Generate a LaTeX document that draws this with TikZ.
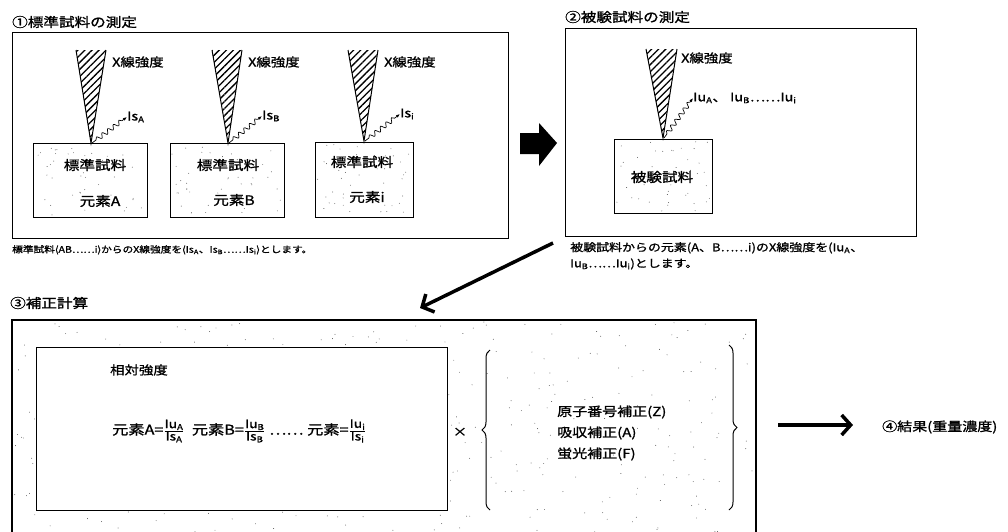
\documentclass[tikz,border=0pt]{standalone}
\usepackage{fontspec}
\newfontfamily\jp[FakeStretch=1.2,FakeBold=1.2]{Noto Sans CJK JP}
\usetikzlibrary{patterns.meta,decorations.pathmorphing,decorations.pathreplacing,arrows.meta}
\newcommand\fr[2]{\ensuremath{{\hbox{\jp\fontsize{11.5}{11.5}\selectfont #1}\above0.7pt\hbox{\jp\fontsize{11.5}{11.5}\selectfont #2}}}}
\begin{document}
\begin{tikzpicture}[x=1pt,y=-1pt,
  every node/.style={inner sep=0pt},
  ttl/.style={font=\jp\fontsize{13}{15}\selectfont, anchor=west},
  captxt/.style={font=\jp\fontsize{8.9}{16}\selectfont, anchor=north west, align=left},
  captwo/.style={font=\jp\fontsize{10.8}{16}\selectfont, anchor=north west, align=left},
  xl/.style={font=\jp\fontsize{12}{14}\selectfont, anchor=west},
  smp/.style={font=\jp\fontsize{13}{15}\selectfont},
  midtxt/.style={font=\jp\fontsize{12}{21}\selectfont},
  frm/.style={draw, line width=1.4pt},
  sample/.style={draw, line width=1pt, fill=white},
  cone/.style={pattern={Lines[angle=45,distance=5pt,line width=1.3pt]}},
  wave/.style={decorate, decoration={snake, amplitude=2.2pt, segment length=7pt, pre length=5pt, post length=4pt}, line width=0.7pt, -{Latex[length=4pt,width=3pt]}},
  bigarrow/.style={line width=3.5pt, -{Straight Barb[length=9pt,width=20pt]}},
  stip/.style={fill=black!70}
]
\useasboundingbox (0,0) rectangle (1008,531);
\pgfmathsetseed{7}

% ---------- section 1 ----------
\node[ttl] (t1) at (12,22) {①標準試料の測定};
\node[frm, anchor=north west, minimum width=496pt, minimum height=206pt] (n1) at (12,32) {};

% sample boxes
\node[sample, anchor=north west, minimum width=114pt, minimum height=74pt] (sA) at (33,143) {};
\node[sample, anchor=north west, minimum width=114pt, minimum height=74pt] (sB) at (170,143) {};
\node[sample, anchor=north west, minimum width=98pt, minimum height=75pt] (sI) at (315,142) {};
\foreach \i in {1,...,45} {
  \fill[stip] ({35+110*rnd},{145+70*rnd}) circle (0.45pt);
  \fill[stip] ({172+110*rnd},{145+70*rnd}) circle (0.45pt);
  \fill[stip] ({317+94*rnd},{144+71*rnd}) circle (0.45pt);
}
\node[smp] (sAt) at (95,165) {標準試料};
\node[smp] (sAe) at (100,201) {元素A};
\node[smp] (sBt) at (228,165) {標準試料};
\node[smp] (sBe) at (234,200) {元素B};
\node[smp] (sIt) at (362,162) {標準試料};
\node[smp] (sIe) at (367,197) {元素i};

% cones
\fill[cone] (76,50) -- (106,50) -- (91,143) -- cycle;
\draw[line width=1pt] (76,50) -- (91,143) -- (106,50);
\fill[cone] (212,50) -- (242,50) -- (228,143) -- cycle;
\draw[line width=1pt] (212,50) -- (228,143) -- (242,50);
\fill[cone] (348,50) -- (378,50) -- (364,141) -- cycle;
\draw[line width=1pt] (348,50) -- (364,141) -- (378,50);

\node[xl] (xA) at (112,62) {X線強度};
\node[xl] (xB) at (248,62) {X線強度};
\node[xl] (xI) at (384,62) {X線強度};

\coordinate (tA) at (92,143);
\coordinate (tB) at (229,143);
\coordinate (tI) at (365,141);
\node[xl] (lA) at (127,117) {Is\textsubscript{A}};
\node[xl] (lB) at (262,116) {Is\textsubscript{B}};
\node[xl] (lI) at (400,114) {Is\textsubscript{i}};
\draw[wave] (tA) -- (lA.west);
\draw[wave] (tB) -- (lB.west);
\draw[wave] (tI) -- (lI.west);

\node[captxt] (c1) at (12,245) {標準試料(AB……i)からのX線強度を(Is\textsubscript{A}、Is\textsubscript{B}……Is\textsubscript{i})とします。};

% ---------- block arrow ----------
\coordinate (ba) at (520,133);
\fill (ba) -- (539,133) -- (539,123) -- (557,143) -- (539,166) -- (539,154) -- (520,154) -- cycle;

% ---------- section 2 ----------
\node[ttl] (t2) at (565,17) {②被験試料の測定};
\node[frm, anchor=north west, minimum width=351pt, minimum height=208pt] (n2) at (565,28) {};
\node[sample, anchor=north west, minimum width=98pt, minimum height=74pt] (s2) at (614,139) {};
\foreach \i in {1,...,45} {
  \fill[stip] ({616+94*rnd},{141+70*rnd}) circle (0.45pt);
}
\node[smp] (s2t) at (662,177) {被験試料};
\fill[cone] (646,49) -- (677,49) -- (663,138) -- cycle;
\draw[line width=1pt] (646,49) -- (663,138) -- (677,49);
\node[xl] (x2) at (681,58) {X線強度};
\coordinate (t2t) at (664,138);
\node[xl] (l2) at (693,98) {Iu\textsubscript{A}、 Iu\textsubscript{B}……Iu\textsubscript{i}};
\draw[wave] (t2t) -- (l2.west);
\node[captwo] (c2) at (570,242) {被験試料からの元素(A、B……i)のX線強度を(Iu\textsubscript{A}、\\Iu\textsubscript{B}……Iu\textsubscript{i})とします。};

% ---------- diagonal arrow ----------
\coordinate (d1) at (553,243);
\coordinate (d2) at (420,308);
\draw[bigarrow] (d1) -- (d2);

% ---------- section 3 ----------
\node[ttl] (t3) at (10,303) {③補正計算};
\foreach \i in {1,...,420} {
  \fill[stip] ({14+740*rnd},{322+210*rnd}) circle (0.45pt);
}
\draw[frm] (12,545) -- (12,320) -- (756,320) -- (756,545);
\node[frm, fill=white, anchor=north west, minimum width=411pt, minimum height=163pt] (n3) at (36,347) {};
\node[midtxt, anchor=west] (rel) at (110,370) {相対強度};
\node[midtxt, anchor=west, font=\jp\fontsize{13.5}{16}\selectfont] (fm) at (112,431) {元素A=\fr{Iu\textsubscript{A}}{Is\textsubscript{A}}\ \ 元素B=\fr{Iu\textsubscript{B}}{Is\textsubscript{B}}\ …… 元素=\fr{Iu\textsubscript{i}}{Is\textsubscript{i}}};
\node[midtxt] (times) at (460,432) {×};
\draw[line width=1pt, decorate, decoration={brace, amplitude=8pt}] (490,510) -- (490,350);
\node[midtxt, anchor=west, align=left, font=\jp\fontsize{12.5}{21}\selectfont] (corr) at (557,433) {原子番号補正(Z)\\吸収補正(A)\\蛍光補正(F)};
\draw[line width=1pt, decorate, decoration={brace, amplitude=8pt}] (729,345) -- (729,510);

% ---------- result ----------
\node[midtxt, anchor=west, font=\jp\fontsize{12.5}{16}\selectfont] (res) at (882,427) {④結果(重量濃度)};
\coordinate (r1) at (778,425);
\coordinate (r2) at (853,425);
\draw[bigarrow] (r1) -- (r2);
\end{tikzpicture}
\end{document}
